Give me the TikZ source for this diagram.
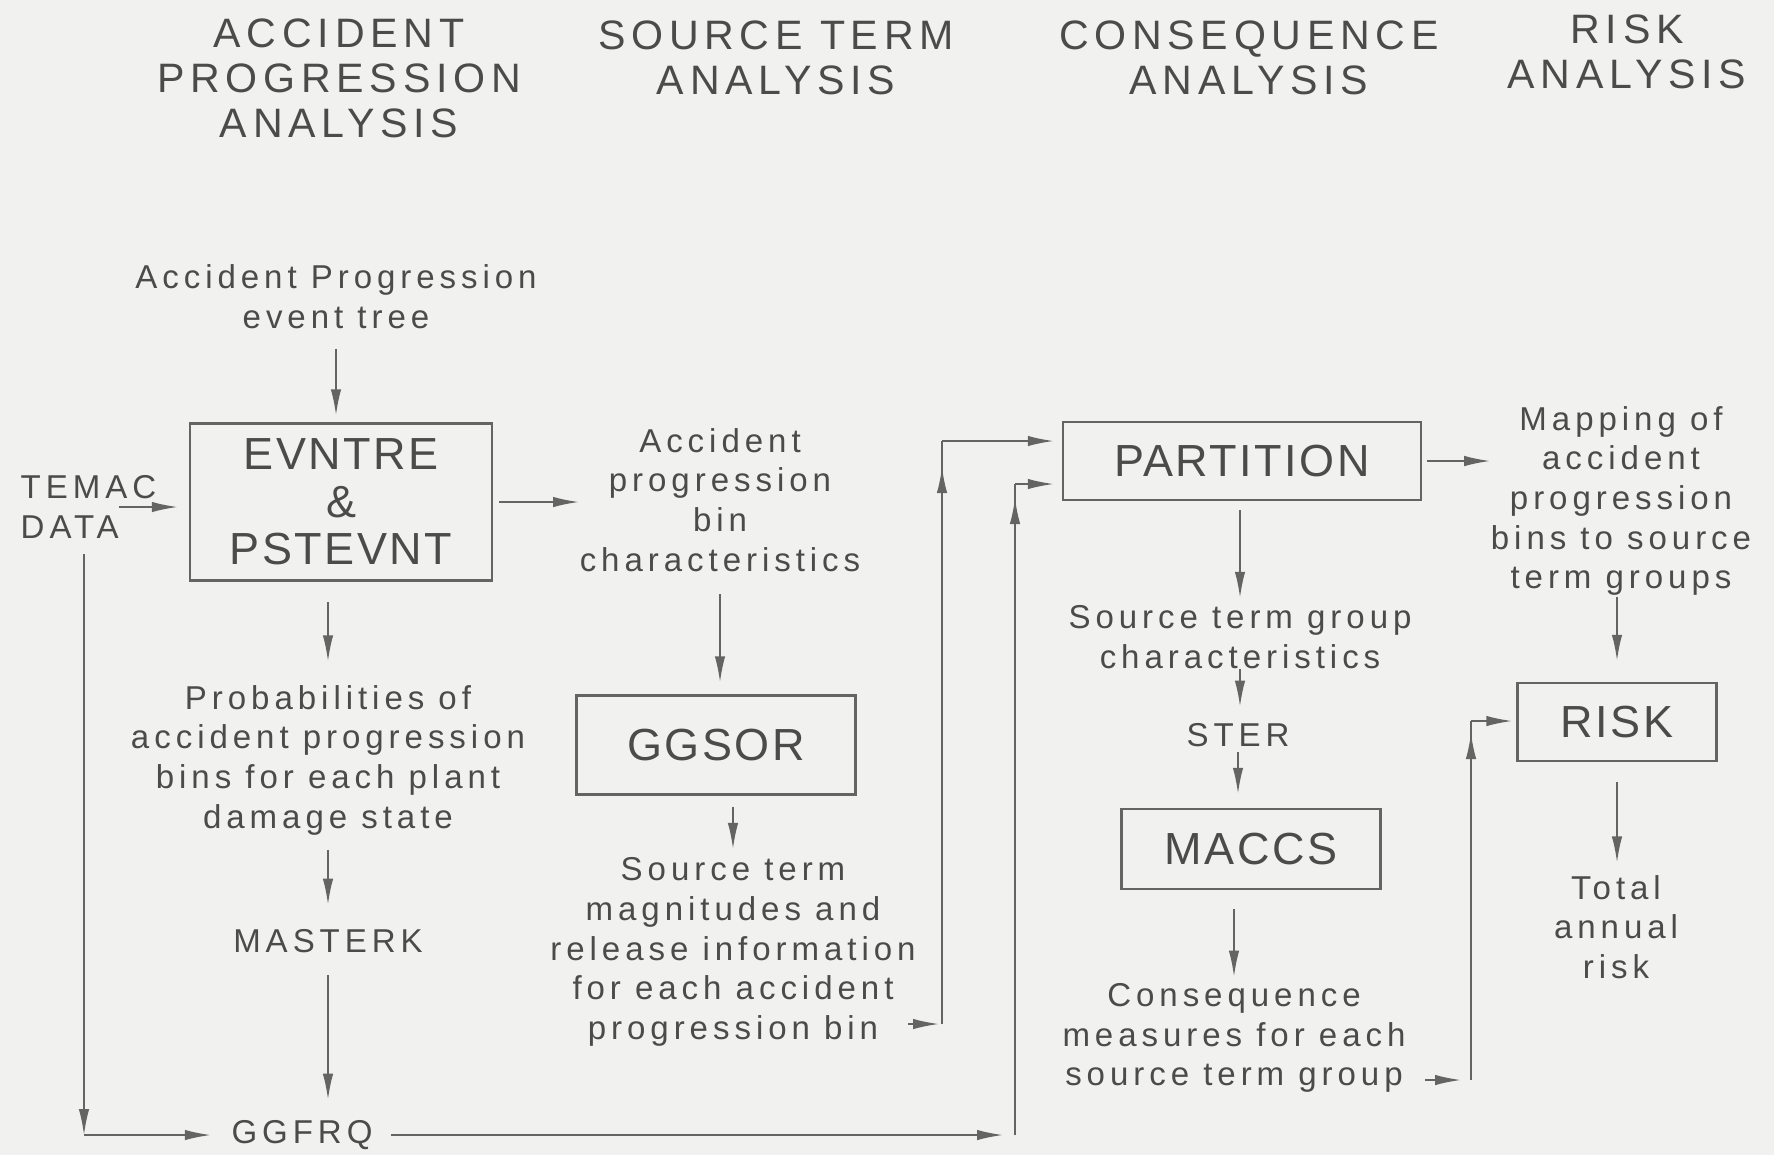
\documentclass[tikz,border=0pt]{standalone}
\usepackage{fontspec}
\setmainfont{Liberation Sans}
\newfontfamily\hdrfont[LetterSpace=14]{Liberation Sans}
\newfontfamily\lblfont[LetterSpace=15]{Liberation Sans}
\newfontfamily\boxfont[LetterSpace=5.5]{Liberation Sans}
\usetikzlibrary{positioning}
\usetikzlibrary{calc}
\usetikzlibrary{arrows.meta}
\definecolor{ink}{RGB}{75,75,75}
\definecolor{wire}{RGB}{100,100,100}
\definecolor{paper}{RGB}{241,241,239}

\begin{document}
\begin{tikzpicture}[
    x=0.1mm, y=-0.1mm,
    >={Latex[length=2.6mm,width=1.05mm]},
    % node styles
    hdr/.style = {
      align=center,
      inner sep=0pt,
      text=ink,
      font=\hdrfont\fontsize{11.7pt}{12.8pt}\selectfont
    },
    lbl/.style = {
      align=center,
      inner sep=0pt,
      text=ink,
      font=\lblfont\fontsize{9.4pt}{11.3pt}\selectfont
    },
    box/.style = {
      draw=wire,
      line width=0.25mm,
      inner sep=0pt,
      align=center,
      text=ink,
      font=\boxfont\fontsize{12.8pt}{13.5pt}\selectfont
    },
    % arrow styles
    arr/.style = {->, line width=0.18mm, draw=wire},
    line/.style = {line width=0.18mm, draw=wire}
  ]

  \useasboundingbox (0,0) rectangle (1774,1155);
  \fill[paper] (0,0) rectangle (1774,1155);

  % --- Column heads
  \node[hdr] (hdrA) at (339,78) {ACCIDENT\\PROGRESSION\\ANALYSIS};
  \node[hdr] (hdrS) at (776,58) {SOURCE TERM\\ANALYSIS};
  \node[hdr] (hdrC) at (1249,58) {CONSEQUENCE\\ANALYSIS};
  \node[hdr] (hdrR) at (1627,52) {RISK\\ANALYSIS};

  % --- Nodes
  \node[lbl] (tree) at (336,297) {Accident Progression\\event tree};
  \node[lbl, align=left, anchor=west] (temac) at (20,507) {TEMAC\\DATA};
  \node[box, minimum width=30.2mm, minimum height=15.7mm] (evn) at (341,502) {EVNTRE\\\&\\PSTEVNT};
  \node[lbl] (apbin) at (720,500) {Accident\\progression\\bin\\characteristics};
  \node[lbl] (prob) at (328,760) {Probabilities of\\accident progression\\bins for each plant\\damage state};
  \node[lbl] (mast) at (328,941) {MASTERK};
  \node[lbl] (ggfrq) at (302,1135) {GGFRQ};
  \node[box, minimum width=27.9mm, minimum height=9.9mm] (ggsor) at (716,745) {GGSOR};
  \node[lbl] (stmag) at (733,952) {Source term\\magnitudes and\\release information\\for each accident\\progression bin};

  \node[box, minimum width=35.8mm, minimum height=7.8mm] (part) at (1242,461) {PARTITION};
  \node[lbl] (stgrp) at (1240,637) {Source term group\\characteristics};
  \node[lbl] (ster) at (1238,735) {STER};
  \node[box, minimum width=25.9mm, minimum height=8mm] (maccs) at (1251,849) {MACCS};
  \node[lbl] (cons) at (1234,1038) {Consequence\\measures for each\\source term group};

  \node[lbl] (map) at (1621,501) {Mapping of\\accident\\progression\\bins to source\\term groups};
  \node[box, minimum width=19.9mm, minimum height=7.8mm] (risk) at (1617,722) {RISK};
  \node[lbl] (total) at (1616,927) {Total\\annual\\risk};

  \coordinate (lowL) at (84,1135);
  \coordinate (up1b) at (942,1024);
  \coordinate (up1t) at (942,441);
  \coordinate (up2b) at (1015,1135);
  \coordinate (up2t) at (1015,484);
  \coordinate (up3b) at (1471,1080);
  \coordinate (up3t) at (1471,721);

  % --- Arrows
  \draw[arr, shorten <=1.9mm, shorten >=0.7mm] (tree.south) -- (tree.south |- evn.north);
  \draw[arr, shorten >=1.1mm] ($(temac.west)+(99,0)$) -- (temac.west -| evn.west);
  \draw[arr, shorten <=0.6mm] (evn.east) -- (evn.east -| apbin.west);
  \draw[arr, shorten <=2mm, shorten >=2.3mm] (prob.north |- evn.south) -- (prob.north);
  \draw[arr, shorten <=1.4mm, shorten >=2.4mm] (prob.south) -- (mast.north);
  \draw[arr, shorten <=2.2mm, shorten >=2mm] (mast.south) -- (mast.south |- ggfrq.north);
  \draw[arr] ($(temac.south west)+(64,15)$) -- (lowL);
  \draw[arr, shorten >=2mm] (lowL) -- (lowL -| ggfrq.west);

  \draw[arr, shorten <=2.2mm, shorten >=1.2mm] (apbin.south) -- (apbin.south |- ggsor.north);
  \draw[arr, shorten <=1.1mm, shorten >=0.8mm] (stmag.north |- ggsor.south) -- (stmag.north);

  % stmag up to PARTITION
  \draw[arr, shorten >=0.3mm] ($(stmag.east |- up1b)+(-8,0)$) -- (up1b);
  \draw[line] (up1b) -- (up1t);
  \draw[arr] (up1b) -- ($(up1t)+(0,26)$);
  \draw[arr, shorten >=0.8mm] (up1t) -- (up1t -| part.west);

  % GGFRQ up to PARTITION
  \draw[arr, shorten <=1.8mm, shorten >=1.2mm] (ggfrq.east) -- (up2b);
  \draw[line] (up2b) -- (up2t);
  \draw[arr] (up2b) -- ($(up2t)+(0,14)$);
  \draw[arr, shorten >=0.8mm] (up2t) -- (up2t -| part.west);

  \draw[arr, shorten <=0.5mm] (part.east) -- (part.east -| map.west);
  \draw[arr, shorten <=0.9mm, shorten >=0.7mm] (stgrp.north |- part.south) -- (stgrp.north);
  \draw[arr, shorten >=1.6mm] (stgrp.south) -- (stgrp.south |- ster.north);
  \draw[arr, shorten <=0.5mm, shorten >=1.4mm] (ster.south) -- (ster.south |- maccs.north);
  \draw[arr, shorten <=1.9mm, shorten >=0.6mm] (cons.north |- maccs.south) -- (cons.north);

  % consequences up to RISK
  \draw[arr, shorten >=1mm] ($(cons.east |- up3b)+(19,0)$) -- (up3b);
  \draw[line] (up3b) -- (up3t);
  \draw[arr] (up3b) -- ($(up3t)+(0,12)$);
  \draw[arr, shorten >=0.4mm] (up3t) -- (up3t -| risk.west);

  \draw[arr, shorten >=2.1mm] (risk.north |- map.south) -- (risk.north);
  \draw[arr, shorten <=2mm, shorten >=1.2mm] (risk.south) -- (risk.south |- total.north);

\end{tikzpicture}
\end{document}
